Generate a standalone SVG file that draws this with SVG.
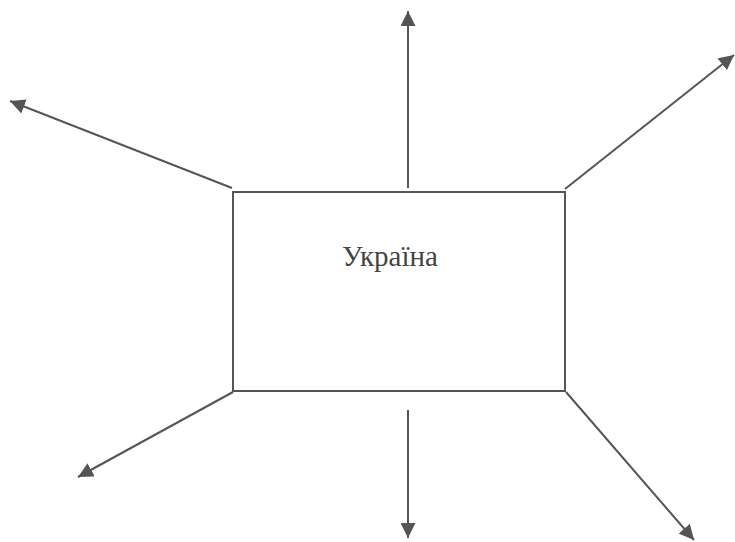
<svg xmlns="http://www.w3.org/2000/svg" width="735" height="542" viewBox="0 0 735 542">
<style>
.c{stroke:#555;stroke-width:2;fill:none}
.n{stroke:#555;stroke-width:2;fill:#fff}
.t{font-family:"Liberation Serif",serif;font-size:29px;fill:#444}
</style>
<defs>
<marker id="a" viewBox="0 0 10 10" refX="10" refY="5" markerWidth="7.5" markerHeight="7.5" markerUnits="strokeWidth" orient="auto">
<path d="M0,0L10,5L0,10z" fill="#555"/>
</marker>
</defs>
<rect width="735" height="542" fill="#fff"/>
<g id="connectors">
<line class="c" x1="232" y1="188" x2="10" y2="101" marker-end="url(#a)"/>
<line class="c" x1="408" y1="188" x2="408" y2="11" marker-end="url(#a)"/>
<line class="c" x1="565" y1="189" x2="734" y2="55" marker-end="url(#a)"/>
<line class="c" x1="233" y1="392" x2="78" y2="477" marker-end="url(#a)"/>
<line class="c" x1="408" y1="410" x2="408" y2="538" marker-end="url(#a)"/>
<line class="c" x1="566" y1="392" x2="694" y2="540" marker-end="url(#a)"/>
</g>
<g id="ukraine">
<rect class="n" x="233" y="192" width="332" height="199"/>
<text class="t" x="390" y="266" text-anchor="middle">Україна</text>
</g>
</svg>
